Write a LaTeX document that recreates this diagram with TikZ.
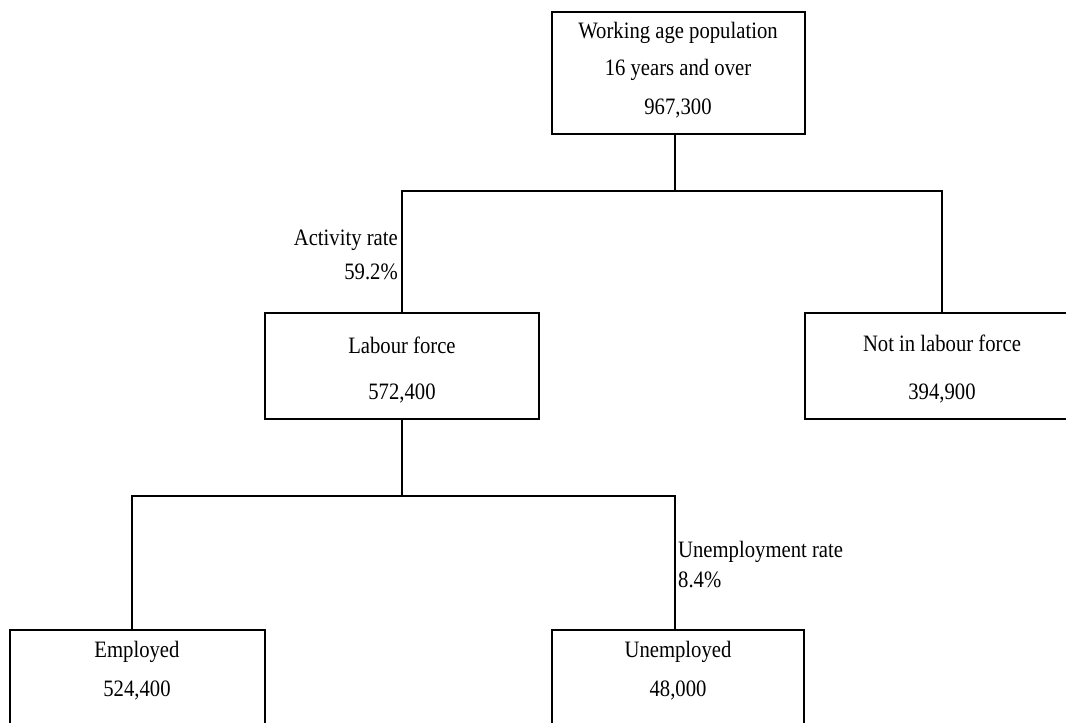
\documentclass[tikz,border=0pt]{standalone}
\usepackage{fontspec}
\setmainfont[FakeStretch=0.88]{Liberation Serif}
\begin{document}
\begin{tikzpicture}[x=1pt,y=-1pt,
  box/.style={draw,line width=2.5pt,inner sep=0pt},
  txt/.style={font=\fontsize{23.5}{27}\selectfont,inner sep=0pt},
  conn/.style={line width=2.5pt}]
\useasboundingbox (0,0) rectangle (1066,723);
\clip (0,0) rectangle (1066,723);
% boxes
\node[box,minimum width=253pt,minimum height=122pt] (wap) at (678.5,73) {};
\node[box,minimum width=274pt,minimum height=106pt] (lf) at (402,366) {};
\node[box,minimum width=274pt,minimum height=106pt] (nlf) at (942,366) {};
\node[box,minimum width=255pt,minimum height=140pt] (emp) at (137.5,700) {};
\node[box,minimum width=252pt,minimum height=140pt] (unemp) at (678,700) {};
% texts
\node[txt] (t1) at (678,33) {Working age population};
\node[txt] (t2) at (678,70) {16 years and over};
\node[txt] (t3) at (678,108) {967,300};
\node[txt] (t4) at (402,345) {Labour force};
\node[txt] (t5) at (402,393) {572,400};
\node[txt] (t6) at (942,343) {Not in labour force};
\node[txt] (t7) at (942,393) {394,900};
\node[txt] (t8) at (137,652) {Employed};
\node[txt] (t9) at (137,690) {524,400};
\node[txt] (t10) at (678,652) {Unemployed};
\node[txt] (t11) at (678,690) {48,000};
\node[txt,anchor=east] (ar1) at (398,240) {Activity rate};
\node[txt,anchor=east] (ar2) at (398,272) {59.2\%};
\node[txt,anchor=west] (ur1) at (678,552) {Unemployment rate};
\node[txt,anchor=west] (ur2) at (678,580) {8.4\%};
% connectors
\coordinate (j1) at (675,191);
\coordinate (j2) at (402,496);
\draw[conn] (j1 |- wap.south) -- (j1);
\draw[conn] (lf.north) -- (lf.north |- j1) -- (nlf.north |- j1) -- (nlf.north);
\draw[conn] (lf.south) -- (j2);
\draw[conn] (132,630) coordinate (e1) -- (e1 |- j2) -- (675,496) coordinate (u1) -- (u1 |- unemp.north);
\end{tikzpicture}
\end{document}
